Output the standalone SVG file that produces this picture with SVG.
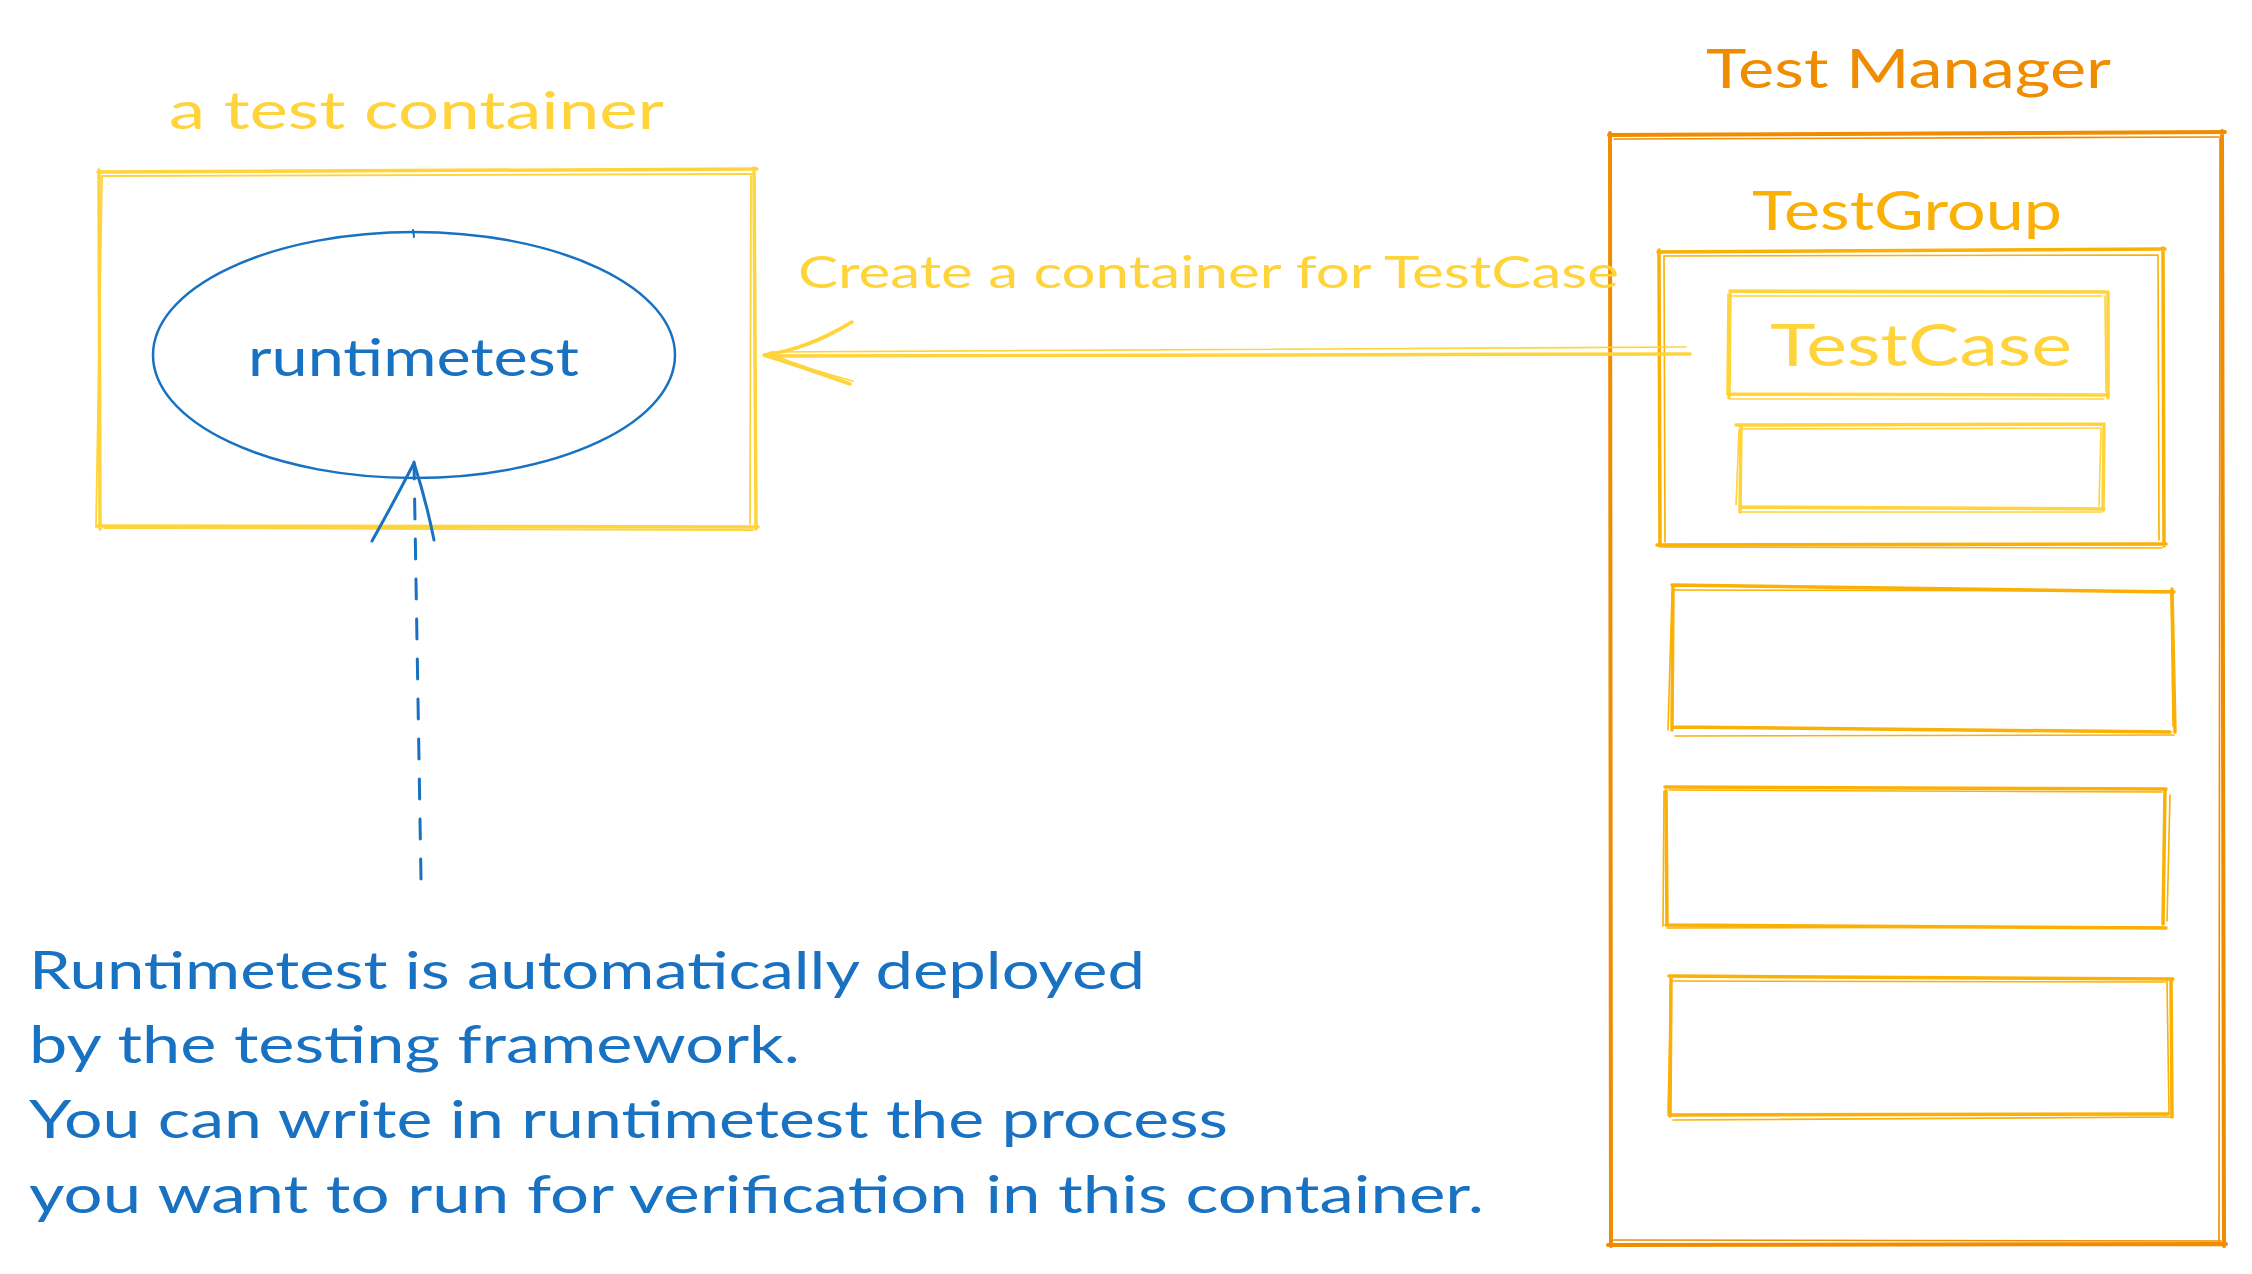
<svg xmlns="http://www.w3.org/2000/svg" width="2252" height="1274" viewBox="0 0 2252 1274">
<style>
  .t { font-family: Lato, "Open Sans", "Liberation Sans", sans-serif; }
  .blue { fill: #1971c2; }
  .yel { fill: #ffd43b; }
  .amb { fill: #fab005; }
  .org { fill: #f08c00; }
  .s { fill: none; stroke-linecap: round; stroke-linejoin: round; }
  .sy { stroke: #ffd43b; }
  .sa { stroke: #fab005; }
  .so { stroke: #f08c00; }
  .sb { stroke: #1971c2; }
</style>
<rect width="2252" height="1274" fill="#ffffff"/>

<g id="test-container">
  <path class="s sy" stroke-width="3.5" d="M98 172 L757 169 M754 168 L756 529 M758 527 L97 526 M100 529 L99 170"/>
  <path class="s sy" stroke-width="1.8" d="M102 176 L752 174 M751 176 L750 524 M753 530 L104 528 M96 527 L102 177"/>
  <text class="t yel" x="169" y="129" font-size="52" textLength="495" lengthAdjust="spacingAndGlyphs">a test container</text>
</g>

<g id="runtimetest">
  <ellipse cx="414" cy="355" rx="261" ry="123" class="s sb" stroke-width="2.5"/>
  <path class="s sb" stroke-width="2" d="M413 230 L414 237"/>
  <text class="t blue" x="248" y="376" font-size="52" textLength="331" lengthAdjust="spacingAndGlyphs">runtimetest</text>
</g>

<g id="test-manager">
  <path class="s so" stroke-width="4" d="M1609 135 L2225 132 M2222 131 L2224 1246 M2226 1244 L1608 1245 M1611 1246 L1610 133"/>
  <path class="s so" stroke-width="1.6" d="M1614 139 L2219 137 M2220 138 L2219 1240 M2221 1241 L1613 1240"/>
  <text class="t org" x="1706" y="88" font-size="54" textLength="405" lengthAdjust="spacingAndGlyphs">Test Manager</text>
</g>

<g id="test-group">
  <path class="s sa" stroke-width="3.5" d="M1658 252 L2165 249 M2163 248 L2164 546 M2166 544 L1657 545 M1660 546 L1659 250"/>
  <path class="s sa" stroke-width="1.6" d="M1664 256 L2158 255 M2158 256 L2159 540 M2162 548 L1662 547 M1665 542 L1664 257"/>
  <text class="t amb" x="1752" y="230" font-size="54" textLength="310" lengthAdjust="spacingAndGlyphs">TestGroup</text>
</g>

<g id="test-case">
  <path class="s sy" stroke-width="3.5" d="M1730 291 L2107 292 M2108 292 L2108 398 M2106 395 L1728 394 M1729 398 L1730 294"/>
  <path class="s sy" stroke-width="1.6" d="M1731 296 L2102 296 M2105 296 L2106 392 M2104 399 L1731 399 M1727 395 L1728 294"/>
  <text class="t yel" x="1770" y="366" font-size="58" textLength="302" lengthAdjust="spacingAndGlyphs">TestCase</text>
</g>

<g id="test-case-2">
  <path class="s sy" stroke-width="3.5" d="M1736 425 L2104 424 M2104 424 L2103 510 M2104 509 L1740 507 M1740 512 L1741 426"/>
  <path class="s sy" stroke-width="1.6" d="M1740 429 L2100 428 M2101 428 L2099 506 M1741 512 L2102 512 M1736 505 L1739 430"/>
</g>

<g id="test-group-2">
  <path class="s sa" stroke-width="3.5" d="M1672 585 L2174 592 M2172 589 L2175 732 M2170 732 L1673 727 M1672 730 L1673 587"/>
  <path class="s sa" stroke-width="1.6" d="M1674 590 L2170 591 M2171 592 L2173 726 M1675 736 L2174 735 M1668 730 L1672 593"/>
</g>

<g id="test-group-3">
  <path class="s sa" stroke-width="3.5" d="M1665 787 L2166 789 M2165 790 L2163 924 M2166 928 L1666 925 M1667 924 L1666 791"/>
  <path class="s sa" stroke-width="1.6" d="M1669 790 L2162 792 M2170 795 L2167 921 M1667 928 L2162 927 M1663 926 L1664 791"/>
</g>

<g id="test-group-4">
  <path class="s sa" stroke-width="3.5" d="M1669 976 L2173 979 M2171 979 L2172 1117 M2168 1114 L1669 1115 M1670 1116 L1671 979"/>
  <path class="s sa" stroke-width="1.6" d="M1673 981 L2165 982 M2167 981 L2169 1114 M1673 1120 L2172 1117 M1668 1113 L1671 983"/>
</g>

<g id="connectors">
  <g id="arrow-create">
    <path class="s sy" stroke-width="3.5" d="M1690 354 L766 356"/>
    <path class="s sy" stroke-width="1.6" d="M1686 347 L770 352"/>
    <path class="s sy" stroke-width="3.5" d="M852 322 Q805 350 764 355 Q805 368 850 384"/>
    <path class="s sy" stroke-width="1.6" d="M848 325 Q805 352 768 353 Q810 370 853 381"/>
    <text class="t yel" x="798" y="288" font-size="44" textLength="821" lengthAdjust="spacingAndGlyphs">Create a container for TestCase</text>
  </g>
  <g id="arrow-deploy">
    <path class="s sb" stroke-width="3" stroke-dasharray="20 20" d="M421 879 L414 462"/>
    <path class="s sb" stroke-width="3" d="M372 541 Q395 500 414 463 Q426 500 434 540"/>
  </g>
</g>

<g id="note">
  <text class="t blue" x="29" y="989" font-size="52" textLength="1116" lengthAdjust="spacingAndGlyphs">Runtimetest is automatically deployed</text>
  <text class="t blue" x="29" y="1063" font-size="52" textLength="771" lengthAdjust="spacingAndGlyphs">by the testing framework.</text>
  <text class="t blue" x="29" y="1138" font-size="52" textLength="1199" lengthAdjust="spacingAndGlyphs">You can write in runtimetest the process</text>
  <text class="t blue" x="29" y="1213" font-size="52" textLength="1455" lengthAdjust="spacingAndGlyphs">you want to run for verification in this container.</text>
</g>
</svg>
